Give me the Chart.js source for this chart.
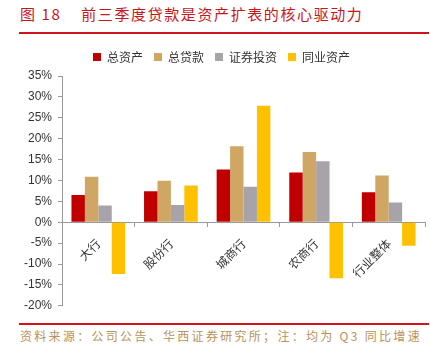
<!DOCTYPE html>
<html>
<head>
<meta charset="utf-8">
<script src="https://cdn.jsdelivr.net/npm/chart.js@4"></script>
<style>
  body { margin: 0; background: #fff; width: 430px; height: 352px; position: relative; overflow: hidden;
         font-family: "Noto Sans CJK SC", sans-serif; }
  #title { position: absolute; left: 20px; top: 3px; font-size: 15px; color: #c8161d; letter-spacing: 1.6px; white-space: nowrap; }
  #topline { position: absolute; left: 19px; top: 32px; width: 410px; height: 2px; background: #d0141c; }
  #wrap { position: absolute; left: 0; top: 36px; width: 430px; height: 283px; }
  #botline { position: absolute; left: 19px; top: 323px; width: 410px; height: 2px; background: #d0141c; }
  #source { position: absolute; left: 20px; top: 327px; font-size: 12px; color: #b8925a; letter-spacing: 2.3px; white-space: nowrap; }
</style>
</head>
<body>
<div id="title">图 18&nbsp;&nbsp;&nbsp;&nbsp;前三季度贷款是资产扩表的核心驱动力</div>
<div id="topline"></div>
<div id="wrap"><canvas id="chartCanvas"></canvas></div>
<div id="botline"></div>
<div id="source">资料来源：公司公告、华西证券研究所；注：均为 Q3 同比增速</div>
<script>
var categories = ["大行", "股份行", "城商行", "农商行", "行业整体"];
var seriesNames = ["总资产", "总贷款", "证券投资", "同业资产"];
var totalAssets = [6.5, 7.4, 12.6, 11.9, 7.2];
var totalLoans = [10.9, 9.9, 18.2, 16.8, 11.2];
var securities = [4.0, 4.1, 8.5, 14.6, 4.7];
var interbank = [-12.4, 8.8, 27.9, -13.4, -5.6];
var colors = ["#c00000", "#d0a664", "#a8a3a8", "#ffc000"];

var ctx = document.getElementById("chartCanvas").getContext("2d");

var values = [totalAssets, totalLoans, securities, interbank];
var dataset = [];
for (var i = 0; i < values.length; i++) {
  dataset.push({
    label: seriesNames[i],
    data: values[i],
    backgroundColor: colors[i],
    borderWidth: 0,
    categoryPercentage: 0.74,
    barPercentage: 1,
  });
}

Chart.defaults.font.family = "'Liberation Sans', 'Noto Sans CJK SC', sans-serif";
Chart.defaults.color = "#333";

// a bit more room under the legend
var legendGap = {
  id: "legendGap",
  beforeInit: function (chart) {
    var fit = chart.legend.fit;
    chart.legend.fit = function () {
      fit.bind(chart.legend)();
      this.height += 3;
    };
  },
};

var chart = new Chart(ctx, {
  type: "bar",
  data: {
    labels: categories,
    datasets: dataset,
  },
  plugins: [legendGap],
  options: {
    responsive: true,
    maintainAspectRatio: false,
    animation: false,
    layout: {
      padding: { left: 18, right: 5, top: 4, bottom: 10 },
    },
    scales: {
      x: {
        position: { y: 0 },
        offset: true,
        grid: {
          offset: true,
          drawOnChartArea: false,
          drawTicks: true,
          tickLength: 4,
          color: "#999",
        },
        border: { color: "#999", width: 1 },
        ticks: {
          minRotation: 45,
          maxRotation: 45,
          padding: 10,
          font: { family: "'Noto Sans CJK SC', sans-serif", size: 12 },
          color: "#333",
        },
      },
      y: {
        min: -20,
        max: 35,
        grid: {
          drawOnChartArea: false,
          drawTicks: true,
          tickLength: 4,
          color: "#999",
        },
        border: { color: "#999", width: 1 },
        ticks: {
          stepSize: 5,
          padding: 6,
          font: { size: 12 },
          color: "#333",
          callback: function (v) { return v + "%"; },
        },
      },
    },
    plugins: {
      legend: {
        position: "top",
        labels: {
          boxWidth: 8,
          boxHeight: 8,
          padding: 11,
          font: { family: "'Noto Sans CJK SC', sans-serif", size: 12 },
          color: "#333",
        },
      },
      tooltip: { enabled: false },
    },
  },
});
</script>
</body>
</html>
